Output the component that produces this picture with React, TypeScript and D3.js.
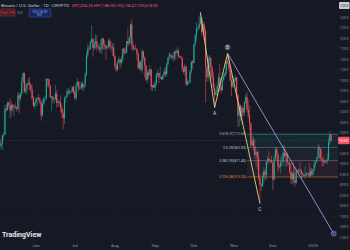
import React from 'react';
import * as d3 from 'd3';

// ---- DATA (BTC/USD daily, values in thousands) ----
const startDate = new Date(2025, 4, 1);
const firstOpen = 94.2;
const closes = [
  96.5, 96.9, 95.9, 94.3, 94.7, 96.8, 97.0, 103.2, 102.9, 104.6, 104.1, 102.8, 104.1, 103.5, 103.7, 103.5, 103.2, 106.4, 105.6, 106.8, 109.6, 111.7, 107.3, 107.8, 109.0, 109.4, 108.9, 107.8, 105.6, 103.9, 104.6,
  105.7, 105.8, 105.4, 104.7, 101.6, 104.4, 105.6, 105.7, 110.3, 110.2, 108.7, 105.9, 106.1, 105.4, 105.6, 106.8, 104.6, 104.9, 104.6, 103.3, 102.2, 100.9, 105.6, 106.0, 107.3, 106.9, 107.1, 107.3, 108.4, 107.1,
  105.7, 108.8, 109.6, 108.0, 108.2, 109.2, 108.3, 108.9, 111.3, 115.9, 117.5, 117.4, 119.1, 119.8, 117.7, 118.7, 119.3, 117.9, 117.9, 117.3, 117.4, 119.9, 118.5, 118.3, 117.6, 117.9, 119.4, 118.0, 117.8, 117.8, 115.7,
  113.3, 112.5, 114.2, 115.0, 114.1, 115.0, 117.5, 116.6, 116.5, 119.3, 118.7, 120.1, 123.3, 118.4, 117.4, 117.5, 117.4, 116.2, 112.9, 114.3, 112.5, 116.9, 115.4, 113.5, 110.1, 111.8, 111.2, 112.6, 108.4, 108.8, 108.2,
  109.2, 111.2, 111.7, 110.7, 110.7, 110.2, 111.2, 112.1, 111.5, 113.9, 115.5, 116.1, 115.9, 115.3, 115.4, 116.8, 116.5, 117.1, 115.7, 115.7, 115.3, 112.7, 112.0, 113.3, 109.0, 109.6, 109.6, 112.1, 114.4, 114.1,
  118.6, 120.6, 122.3, 122.4, 123.5, 124.8, 121.5, 123.3, 121.7, 113.2, 110.7, 115.2, 115.3, 113.0, 110.8, 108.2, 106.5, 107.2, 108.6, 110.6, 108.5, 107.6, 110.1, 111.0, 111.6, 114.5, 114.1, 112.9, 110.0, 108.3, 109.6,
  110.1, 110.6, 106.5, 101.6, 103.9, 101.3, 103.4, 102.3, 104.7, 106.0, 103.0, 101.6, 99.7, 94.4, 95.6, 94.2, 92.2, 92.9, 91.5, 86.6, 85.1, 84.7, 86.8, 88.3, 87.4, 90.5, 91.3, 90.9, 90.8, 90.4,
  86.3, 91.3, 93.5, 92.1, 89.4, 89.3, 90.4, 90.6, 92.7, 92.0, 92.5, 90.3, 90.3, 88.2, 86.4, 87.8, 86.2, 85.5, 88.1, 88.3, 88.6, 88.5, 87.6, 87.6, 87.2, 87.3, 87.8, 87.8, 87.1, 88.4, 87.5,
  88.7, 90.0, 90.6, 91.5, 93.9, 93.7, 91.3, 91.0, 90.5, 90.4, 90.8, 91.1, 95.3, 97.0, 95.6,
];
const highs = [
  97.4, 97.9, 96.9, 96.0, 95.2, 97.0, 97.6, 104.0, 104.3, 104.9, 105.0, 105.7, 104.9, 104.3, 104.2, 104.5, 103.7, 107.1, 107.1, 107.1, 110.8, 111.9, 111.8, 109.5, 109.3, 110.4, 110.7, 109.3, 108.9, 106.3, 104.9,
  105.9, 105.9, 106.8, 105.9, 105.0, 105.4, 105.9, 106.4, 110.5, 110.4, 110.4, 108.9, 106.2, 106.2, 105.9, 108.9, 107.7, 105.6, 105.2, 106.4, 104.0, 103.0, 106.1, 106.3, 108.0, 108.2, 107.8, 107.6, 108.5, 108.8,
  107.6, 109.6, 110.5, 109.8, 108.5, 109.7, 109.7, 109.2, 111.9, 116.8, 118.8, 118.2, 119.5, 123.2, 119.9, 120.0, 120.9, 120.8, 118.5, 118.8, 119.7, 120.2, 120.1, 119.5, 118.4, 118.3, 119.8, 119.8, 119.2, 118.8, 118.9,
  116.0, 114.0, 114.7, 115.7, 115.1, 115.7, 117.6, 117.7, 117.9, 119.3, 122.3, 120.3, 123.6, 124.5, 119.3, 117.9, 118.6, 117.6, 116.8, 114.6, 114.8, 117.4, 117.0, 115.7, 113.6, 112.4, 112.6, 113.5, 112.6, 108.9, 109.5,
  109.9, 111.8, 112.6, 111.8, 113.4, 110.9, 111.5, 112.9, 113.2, 114.3, 115.5, 116.7, 116.4, 116.1, 116.8, 116.9, 117.3, 117.9, 117.4, 116.0, 115.7, 115.3, 113.3, 113.9, 113.4, 110.3, 110.0, 112.4, 114.5, 114.8,
  118.7, 121.0, 123.9, 122.9, 125.4, 126.2, 125.0, 124.1, 123.8, 122.5, 113.3, 115.8, 116.0, 115.5, 113.5, 111.9, 109.2, 107.6, 109.5, 111.7, 114.0, 109.1, 110.8, 112.0, 111.9, 115.0, 116.4, 116.1, 113.6, 111.6, 111.2,
  110.6, 111.2, 110.8, 106.6, 104.5, 104.2, 104.0, 103.5, 105.0, 106.7, 107.3, 105.3, 104.0, 99.8, 96.8, 96.6, 96.0, 93.8, 93.0, 93.1, 87.5, 85.6, 88.0, 89.2, 88.8, 90.6, 91.9, 93.1, 91.2, 92.0,
  90.4, 92.3, 94.1, 94.0, 92.6, 90.0, 91.8, 92.3, 94.6, 94.4, 93.6, 92.8, 90.6, 90.5, 90.0, 88.1, 90.4, 89.5, 89.0, 88.6, 89.1, 90.5, 88.9, 88.0, 88.0, 89.5, 88.0, 88.1, 90.3, 89.2, 89.1,
  88.9, 90.9, 90.7, 91.8, 94.8, 94.4, 93.6, 91.5, 91.9, 90.8, 91.1, 92.4, 96.3, 97.9, 97.2,
];
const lows = [
  94.1, 96.3, 95.7, 93.9, 93.5, 93.4, 95.8, 96.9, 102.3, 102.8, 103.3, 100.8, 101.5, 102.6, 101.4, 103.1, 102.6, 102.7, 102.1, 104.9, 106.2, 109.3, 106.8, 106.9, 106.6, 108.7, 107.5, 106.8, 105.3, 103.6, 103.1,
  103.9, 103.8, 105.1, 104.2, 100.4, 101.2, 103.9, 104.9, 105.3, 108.4, 108.1, 105.7, 102.7, 104.5, 104.5, 105.0, 103.4, 103.6, 103.9, 102.4, 100.9, 98.2, 99.6, 104.6, 105.9, 106.6, 106.4, 106.9, 107.2, 106.7,
  105.2, 105.2, 108.5, 107.3, 107.8, 107.9, 107.5, 107.5, 108.3, 111.0, 115.2, 116.9, 117.3, 118.9, 115.7, 117.2, 117.5, 117.0, 117.3, 116.5, 116.5, 116.1, 117.3, 117.3, 114.7, 117.2, 117.8, 117.4, 116.9, 115.8, 115.5,
  112.7, 112.0, 112.1, 114.0, 112.7, 113.4, 114.3, 115.9, 116.3, 116.5, 118.1, 118.2, 118.9, 117.2, 116.8, 117.3, 117.2, 114.7, 112.6, 112.4, 112.0, 111.7, 114.6, 110.7, 109.8, 109.3, 110.3, 110.9, 107.5, 107.4, 108.1,
  107.3, 108.6, 110.6, 109.3, 110.3, 110.0, 110.1, 110.7, 110.8, 110.9, 113.4, 114.8, 115.2, 114.9, 114.4, 114.8, 114.8, 116.3, 115.2, 115.4, 115.2, 112.0, 111.5, 111.1, 108.7, 108.6, 109.0, 109.2, 111.5, 112.7,
  113.9, 118.0, 119.3, 121.6, 122.1, 123.1, 120.6, 121.1, 119.6, 104.6, 109.6, 109.7, 113.0, 110.0, 110.2, 107.5, 103.5, 106.3, 106.2, 107.5, 107.4, 106.8, 107.5, 109.7, 110.6, 111.3, 113.9, 112.1, 109.7, 106.3, 108.6,
  109.4, 109.7, 105.3, 98.9, 98.9, 100.3, 99.3, 101.5, 101.4, 104.3, 102.5, 100.8, 98.0, 94.0, 94.6, 93.1, 91.3, 89.3, 88.6, 86.1, 80.6, 83.6, 84.7, 85.3, 86.1, 86.3, 89.9, 90.2, 90.3, 90.3,
  83.8, 86.1, 91.0, 90.9, 88.1, 88.9, 87.8, 89.6, 89.5, 91.6, 89.3, 89.5, 89.8, 87.6, 85.2, 85.3, 85.4, 84.5, 85.2, 88.0, 87.6, 87.9, 86.5, 86.6, 86.9, 86.6, 87.2, 87.3, 86.8, 86.9, 87.2,
  87.2, 88.2, 89.4, 90.5, 91.3, 91.2, 90.9, 89.3, 89.5, 90.1, 90.2, 90.0, 90.9, 94.6, 95.3,
];

const priceTicks = [127.5, 125, 122.5, 120, 117.5, 115, 112.5, 110, 107.5, 105, 102.5, 100, 97.5, 92.5, 90, 87.5, 85, 82.5, 80, 77.5, 75, 72.5];
const monthDates = [new Date(2025, 5, 1), new Date(2025, 6, 1), new Date(2025, 7, 1), new Date(2025, 8, 1), new Date(2025, 9, 1), new Date(2025, 10, 1), new Date(2025, 11, 1), new Date(2026, 0, 1)];
const monthLabels = ['Jun', 'Jul', 'Aug', 'Sep', 'Oct', 'Nov', 'Dec', '2026'];

const fibLevels = [0.618, 0.5, 0.382, 0.236];
const fibLow = 80.612;
const fibHigh = 107.312;
const fibStart = new Date(2025, 10, 11);

const waveDates = [new Date(2025, 9, 6), new Date(2025, 9, 17), new Date(2025, 9, 27), new Date(2025, 10, 21)];
const wavePrices = [126.2, 103.5, 116.4, 80.6];
const waveLabels = ['', 'A', 'B', 'C'];

const trendDates = [new Date(2025, 9, 27), new Date(2026, 0, 17)];
const trendPrices = [116.4, 73.4];

const lastPrice = 95.618;

export default function App() {
  const W = 350, H = 250, plotRight = 338;
  const x = d3.scaleTime().domain([new Date(2025, 5, 1), new Date(2026, 0, 1)]).range([36, 313]);
  const y = d3.scaleLinear().domain([127.5, 72.5]).range([6.8, 237.4]);
  const fmt = (v: number) => d3.format(',.2f')(v * 1000);
  const up = '#22ab94', down = '#f7525f';
  const font = 'Roboto, "Liberation Sans", sans-serif';

  const candles = closes.map((c, i) => {
    const date = d3.timeDay.offset(startDate, i);
    const o = i === 0 ? firstOpen : closes[i - 1];
    return { date, o, c, h: highs[i], l: lows[i] };
  });

  const fibPrices = fibLevels.map((L) => fibLow + L * (fibHigh - fibLow));
  const fibLine = ['#3b8f80', '#5f6a78', '#7a6378', '#c0702e'];
  const fibText = ['#b2b5be', '#c8cad2', '#c8cad2', '#e0893a'];
  const fibFill = ['rgba(34,171,148,0.10)', 'rgba(120,135,150,0.09)', 'rgba(190,80,110,0.10)'];
  const fx0 = x(fibStart);

  const waveLine = d3.line<number>().x((_, i) => x(waveDates[i])).y((p) => y(p));
  const trendLine = d3.line<number>().x((_, i) => x(trendDates[i])).y((p) => y(p));

  return (
    <svg width={W} height={H} style={{ position: 'fixed', left: 0, top: 0, background: '#151924' }} fontFamily={font}>
      <defs>
        <clipPath id="plot"><rect x={0} y={0} width={plotRight} height={239} /></clipPath>
      </defs>
      <rect width={W} height={H} fill="#151924" />
      {/* grid */}
      <g stroke="#1c2030" strokeWidth={0.6}>
        {priceTicks.map((p) => <line key={'g' + p} x1={0} x2={plotRight} y1={y(p)} y2={y(p)} />)}
        {monthDates.map((d, i) => <line key={'v' + i} x1={x(d)} x2={x(d)} y1={0} y2={239} />)}
      </g>
      <g clipPath="url(#plot)">
        {/* fib zones */}
        {fibFill.map((f, i) => (
          <rect key={'ff' + i} x={fx0} width={plotRight - fx0} y={y(fibPrices[i])} height={y(fibPrices[i + 1]) - y(fibPrices[i])} fill={f} />
        ))}
        {fibPrices.map((p, i) => (
          <line key={'fl' + i} x1={fx0} x2={plotRight} y1={y(p)} y2={y(p)} stroke={fibLine[i]} strokeWidth={0.7} />
        ))}
        {/* price line */}
        <line x1={0} x2={plotRight} y1={y(lastPrice)} y2={y(lastPrice)} stroke={down} strokeWidth={0.6} strokeDasharray="1,1.5" opacity={0.45} />
        {/* candles */}
        {candles.map((k, i) => {
          const col = k.c >= k.o ? up : down;
          const cx = x(k.date);
          const top = y(Math.max(k.o, k.c));
          const hgt = Math.max(0.7, Math.abs(y(k.o) - y(k.c)));
          return (
            <g key={'c' + i}>
              <line x1={cx} x2={cx} y1={y(k.h)} y2={y(k.l)} stroke={col} strokeWidth={0.5} />
              <rect x={cx - 0.55} width={1.1} y={top} height={hgt} fill={col} />
            </g>
          );
        })}
        {/* wave zigzag */}
        <path d={waveLine(wavePrices) || ''} fill="none" stroke="#e6d07c" strokeWidth={0.9} />
        {/* trend line */}
        <path d={trendLine(trendPrices) || ''} fill="none" stroke="#a793e0" strokeWidth={0.9} />
        <circle cx={x(trendDates[1])} cy={y(trendPrices[1])} r={2.4} fill="rgba(150,110,230,0.35)" stroke="#9b7ee8" strokeWidth={0.7} />
      </g>
      {/* fib labels */}
      {fibPrices.map((p, i) => (
        <text key={'ft' + i} x={fx0 - 1} y={y(p)} dy="0.35em" textAnchor="end" fontSize={3.4} fill={fibText[i]}>
          {`${fibLevels[i]} (${fmt(p)})`}
        </text>
      ))}
      {/* wave labels */}
      {waveLabels.map((l, i) => {
        if (!l) return null;
        const above = l === 'B';
        const lx = x(waveDates[i]);
        const ly = above ? y(wavePrices[i]) - 6 : y(wavePrices[i]) + 6;
        return (
          <g key={'wl' + i}>
            {above && <circle cx={lx} cy={ly} r={2.6} fill="#3a3f52" stroke="#8c8fa3" strokeWidth={0.4} />}
            <text x={lx} y={ly} dy="0.35em" textAnchor="middle" fontSize={5} fill="#d1d4dc">{l}</text>
          </g>
        );
      })}
      {/* price axis */}
      {priceTicks.map((p) => (
        <text key={'pt' + p} x={339.8} y={y(p)} dy="0.35em" fontSize={4} fill="#9598a1" textLength={8.6} lengthAdjust="spacingAndGlyphs">{fmt(p)}</text>
      ))}
      <rect x={339} y={2} width={10.6} height={7} rx={1} fill="#c9ccd4" />
      <text x={339.8} y={5.5} dy="0.35em" fontSize={4} fill="#131722" textLength={8.6} lengthAdjust="spacingAndGlyphs">{fmt(127.5)}</text>
      <rect x={338} y={y(lastPrice) - 3.8} width={11.6} height={7.6} rx={1} fill={down} />
      <text x={339.3} y={y(lastPrice)} dy="0.35em" fontSize={4} fill="#ffffff" textLength={9} lengthAdjust="spacingAndGlyphs">{fmt(lastPrice)}</text>
      {/* time axis */}
      {monthDates.map((d, i) => (
        <text key={'m' + i} x={x(d)} y={245} dy="0.35em" textAnchor="middle" fontSize={4.4} fill="#9598a1">{monthLabels[i]}</text>
      ))}
      {/* header */}
      <text x={1} y={6} dy="0.35em" fontSize={4.1} fill="#c8cad2" textLength={68} lengthAdjust="spacingAndGlyphs">Bitcoin / U.S. Dollar · 1D · CRYPTO</text>
      <text x={72} y={6} dy="0.35em" fontSize={4.1} fill={down}>O97,004.25 H97,188.00 L95,128.47 C95,618.00</text>
      <rect x={0.5} y={9} width={14.5} height={7} rx={1} fill="#3b1b22" stroke="#b23a48" strokeWidth={0.5} />
      <text x={7.75} y={12.5} dy="0.35em" textAnchor="middle" fontSize={3.4} fill="#f7525f" textLength={12.5} lengthAdjust="spacingAndGlyphs">95,617.99</text>
      <text x={20} y={13} dy="0.35em" textAnchor="middle" fontSize={3.2} fill="#9598a1">0.01</text>
      <rect x={29} y={9} width={22} height={8} rx={1} fill="#1a2756" stroke="#2f55c9" strokeWidth={0.5} />
      <text x={40} y={12} dy="0.35em" textAnchor="middle" fontSize={3.4} fill="#7fa2ff">95,618.00</text>
      <text x={40} y={15} dy="0.35em" textAnchor="middle" fontSize={2.6} fill="#7fa2ff">BUY</text>
      {/* logo */}
      <text x={2} y={235} dy="0.35em" fontSize={7} fontWeight="bold" fill="#e8e9ed">TradingView</text>
    </svg>
  );
}
